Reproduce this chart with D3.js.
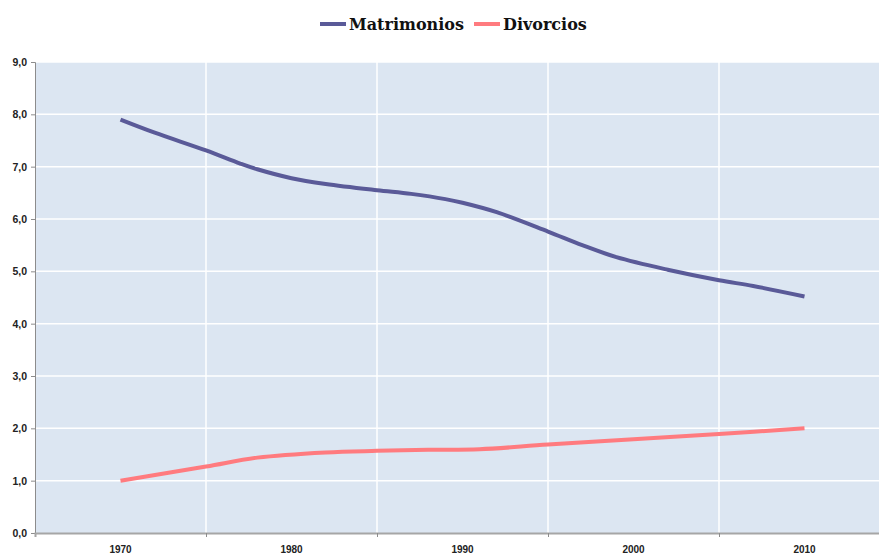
<!DOCTYPE html>
<html>
<head>
<meta charset="utf-8">
<script src="https://cdn.jsdelivr.net/npm/d3@7"></script>
<style>
  body { margin: 0; background: #fff; }
  svg { display: block; }
</style>
</head>
<body>
<div class="chart"></div>
<script>
// Tasas por 1000 habitantes
var matriYears = [1970, 1972, 1975, 1977, 1978, 1980, 1982, 1985, 1987, 1989, 1990, 1992, 1995, 1997, 1999, 2002, 2005, 2007, 2010];
var matriValues = [7.9, 7.65, 7.31, 7.06, 6.95, 6.78, 6.67, 6.55, 6.48, 6.38, 6.31, 6.13, 5.76, 5.5, 5.27, 5.03, 4.83, 4.72, 4.52];
var divorYears = [1970, 1975, 1978, 1982, 1985, 1988, 1991, 1995, 2000, 2005, 2010];
var divorValues = [1.0, 1.27, 1.44, 1.54, 1.57, 1.59, 1.6, 1.69, 1.79, 1.89, 2.0];
var xLabels = [1970, 1980, 1990, 2000, 2010];
var xGrid = [1975, 1985, 1995, 2005];
var yTicks = [0, 1, 2, 3, 4, 5, 6, 7, 8, 9];
var seriesNames = ["Matrimonios", "Divorcios"];
var seriesColors = ["#5a5a98", "#ff7b7f"];

var width = 879, height = 554;
// plot area edges (note: "top" is taken by window.top)
var plotLeft = 35, plotTop = 62, plotBottom = 533;

var svg = d3.select(".chart").append("svg")
    .attr("width", width)
    .attr("height", height);

var x = d3.scaleLinear().domain([1965, 2015]).range([plotLeft, plotLeft + 855]);
var y = d3.scaleLinear().domain([0, 9]).range([plotBottom, plotTop]);

// Plot background
svg.append("rect")
    .attr("x", plotLeft)
    .attr("y", plotTop)
    .attr("width", width - plotLeft)
    .attr("height", plotBottom - plotTop)
    .style("fill", "#dce6f2");

// Horizontal gridlines
svg.selectAll(".hgrid").data(yTicks.slice(1)).enter().append("line")
    .attr("x1", plotLeft).attr("x2", width)
    .attr("y1", function(d) { return y(d); })
    .attr("y2", function(d) { return y(d); })
    .style("stroke", "#fff")
    .style("stroke-width", 1.5);

// Vertical gridlines
svg.selectAll(".vgrid").data(xGrid).enter().append("line")
    .attr("x1", function(d) { return x(d); })
    .attr("x2", function(d) { return x(d); })
    .attr("y1", plotTop).attr("y2", plotBottom)
    .style("stroke", "#fff")
    .style("stroke-width", 1.5);

// Y axis
var yAxis = svg.append("g")
    .attr("transform", "translate(" + plotLeft + ",0)")
    .call(d3.axisLeft(y).tickValues(yTicks).tickSize(4).tickPadding(4)
        .tickFormat(function(d) { return d3.format(".1f")(d).replace(".", ","); }));
yAxis.select(".domain").style("stroke", "#8c8c8c");
yAxis.selectAll(".tick line").style("stroke", "#8c8c8c");
yAxis.selectAll("text")
    .style("font-family", "Liberation Sans, Arial, sans-serif")
    .style("font-weight", "bold")
    .style("font-size", "10.5px")
    .style("fill", "#222");

// X axis
var xAxis = svg.append("g")
    .attr("transform", "translate(0," + plotBottom + ")")
    .call(d3.axisBottom(x).tickValues(xGrid).tickSize(4).tickFormat(""));
xAxis.select(".domain").style("stroke", "#a6a6a6").style("stroke-width", 2);
xAxis.selectAll(".tick line").style("stroke", "#8c8c8c");

svg.selectAll(".xlabel").data(xLabels).enter().append("text")
    .attr("x", function(d) { return x(d); })
    .attr("y", 553)
    .attr("text-anchor", "middle")
    .style("font-family", "Liberation Sans, Arial, sans-serif")
    .style("font-weight", "bold")
    .style("font-size", "10px")
    .style("fill", "#222")
    .text(function(d) { return d; });

// Lines
var line = d3.line()
    .x(function(d) { return x(d[0]); })
    .y(function(d) { return y(d[1]); })
    .curve(d3.curveCatmullRom.alpha(0.5));

var series = [
    d3.zip(matriYears, matriValues),
    d3.zip(divorYears, divorValues)
];

series.forEach(function(s, i) {
    svg.append("path")
        .datum(s)
        .attr("d", line)
        .style("fill", "none")
        .style("stroke", seriesColors[i])
        .style("stroke-width", 4)
        .style("stroke-linecap", "butt");
});

// Legend
var legend = svg.append("g").attr("class", "legend");
var legendX = [320, 474];
seriesNames.forEach(function(name, i) {
    legend.append("line")
        .attr("x1", legendX[i]).attr("x2", legendX[i] + 26)
        .attr("y1", 24).attr("y2", 24)
        .style("stroke", seriesColors[i])
        .style("stroke-width", 4);
    legend.append("text")
        .attr("x", legendX[i] + 29)
        .attr("y", 30)
        .style("font-family", "DejaVu Serif, serif")
        .style("font-weight", "bold")
        .style("font-size", "16px")
        .style("fill", "#111")
        .text(name);
});
</script>
</body>
</html>
